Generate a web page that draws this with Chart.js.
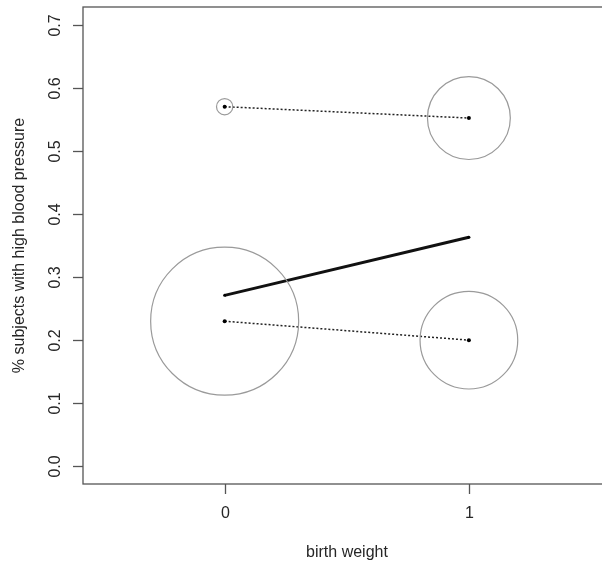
<!DOCTYPE html>
<html lang="en">

<head>
    <meta charset="UTF-8">
    <script src="https://cdn.jsdelivr.net/npm/chart.js"></script>
    <title>birth weight vs high blood pressure</title>
    <style>
        body { margin: 0; background: #fff; }
        #wrap { width: 602px; height: 563px; }
    </style>
</head>

<body>
    <div id="wrap"><canvas id="myChart"></canvas></div>
</body>
<script>

    // data
    var birthWeight = [0, 1];
    var groupA = [0.570, 0.552];      // upper dotted line
    var groupB = [0.230, 0.200];      // lower dotted line
    var overall = [0.271, 0.363];     // thick line
    // relative circle size per point (A0, A1, B0, B1)
    var circleSize = [0.11, 0.56, 1.0, 0.66];
    var xTicks = [0, 1];
    var yTicks = [0.0, 0.1, 0.2, 0.3, 0.4, 0.5, 0.6, 0.7];

    var maxRadius = 74;
    var textColor = '#262626';
    var fontName = '"Liberation Sans", Arial, sans-serif';

    function pts(ys) {
        return birthWeight.map(function (x, i) { return { x: x, y: ys[i] }; });
    }

    var bubbles = [
        { x: birthWeight[0], y: groupA[0], r: circleSize[0] * maxRadius },
        { x: birthWeight[1], y: groupA[1], r: circleSize[1] * maxRadius },
        { x: birthWeight[0], y: groupB[0], r: circleSize[2] * maxRadius },
        { x: birthWeight[1], y: groupB[1], r: circleSize[3] * maxRadius }
    ];

    // draws the R style box, ticks and labels from the chart scales
    var rAxes = {
        id: 'rAxes',
        afterDraw: function (chart) {
            var ctx = chart.ctx;
            var a = chart.chartArea;
            var xs = chart.scales.x;
            var ys = chart.scales.y;
            ctx.save();
            ctx.strokeStyle = '#555';
            ctx.lineWidth = 1.3;
            ctx.strokeRect(a.left, a.top, a.right - a.left + 10, a.bottom - a.top);

            ctx.fillStyle = textColor;
            ctx.font = '16px ' + fontName;

            // y ticks
            yTicks.forEach(function (v) {
                var py = Math.round(ys.getPixelForValue(v)) + 0.5;
                ctx.beginPath();
                ctx.moveTo(a.left - 10, py);
                ctx.lineTo(a.left, py);
                ctx.stroke();
                ctx.save();
                ctx.translate(56, py);
                ctx.rotate(-Math.PI / 2);
                ctx.textAlign = 'center';
                ctx.textBaseline = 'middle';
                ctx.fillText(v.toFixed(1), 0, 0);
                ctx.restore();
            });

            // x ticks
            xTicks.forEach(function (v) {
                var px = Math.round(xs.getPixelForValue(v)) + 0.5;
                ctx.beginPath();
                ctx.moveTo(px, a.bottom);
                ctx.lineTo(px, a.bottom + 10);
                ctx.stroke();
                ctx.textAlign = 'center';
                ctx.textBaseline = 'middle';
                ctx.fillText(String(v), px, 514);
            });

            // axis titles
            ctx.textAlign = 'center';
            ctx.textBaseline = 'alphabetic';
            ctx.fillText('birth weight', 347, 557);
            ctx.save();
            ctx.translate(20, (a.top + a.bottom) / 2);
            ctx.rotate(-Math.PI / 2);
            ctx.textBaseline = 'middle';
            ctx.fillText('% subjects with high blood pressure', 0, 0);
            ctx.restore();
            ctx.restore();
        }
    };

    const ctx = document.getElementById('myChart');

    new Chart(ctx, {
        type: 'bubble',
        data: {
            datasets: [
                {
                    label: 'groups',
                    data: bubbles,
                    backgroundColor: 'rgba(0,0,0,0)',
                    borderColor: '#9a9a9a',
                    borderWidth: 1.2,
                    hoverRadius: 0
                },
                {
                    type: 'line',
                    label: 'A',
                    data: pts(groupA),
                    borderColor: '#222',
                    borderWidth: 1.5,
                    borderDash: [2, 2],
                    pointRadius: 2,
                    pointBackgroundColor: '#000',
                    pointBorderWidth: 0
                },
                {
                    type: 'line',
                    label: 'B',
                    data: pts(groupB),
                    borderColor: '#222',
                    borderWidth: 1.5,
                    borderDash: [2, 2],
                    pointRadius: 2,
                    pointBackgroundColor: '#000',
                    pointBorderWidth: 0
                },
                {
                    type: 'line',
                    label: 'overall',
                    data: pts(overall),
                    borderColor: '#111',
                    borderWidth: 3,
                    pointRadius: 1.5,
                    pointBackgroundColor: '#000',
                    pointBorderWidth: 0
                }
            ]
        },
        options: {
            responsive: true,
            maintainAspectRatio: false,
            animation: false,
            layout: { autoPadding: false, padding: { left: 83, top: 7, right: 0, bottom: 79 } },
            plugins: {
                legend: { display: false },
                tooltip: { enabled: false }
            },
            scales: {
                x: { type: 'linear', min: -0.58, max: 1.545, display: false },
                y: { type: 'linear', min: -0.028, max: 0.728, display: false }
            }
        },
        plugins: [rAxes]
    });

</script>

</html>
